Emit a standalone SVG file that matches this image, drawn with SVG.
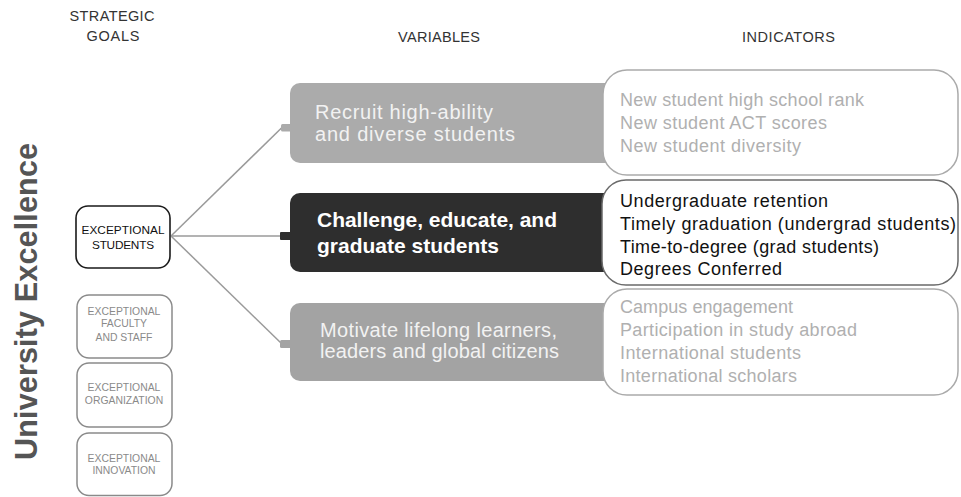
<svg xmlns="http://www.w3.org/2000/svg" width="961" height="497" viewBox="0 0 961 497">
<style>
  text { font-family: "Liberation Sans", Arial, sans-serif; }
  .hdr { font-size: 14.5px; fill: #333; text-anchor: middle; }
  .goal { fill: #fff; stroke: #8a8a8a; stroke-width: 1.5; }
  .goal-on { fill: #fff; stroke: #1a1a1a; stroke-width: 1.6; }
  .gtxt { font-size: 10.4px; fill: #8a8a8a; text-anchor: middle; }
  .gtxt-on { font-size: 11.8px; fill: #111; text-anchor: middle; }
  .var-lt { fill: #ababab; }
  .var-lt2 { fill: #a3a3a3; }
  .var-dk { fill: #2e2e2e; }
  .vtxt { font-size: 20px; fill: #f2f2f2; }
  .vtxt-on { font-size: 21px; font-weight: bold; fill: #fff; }
  .ind { fill: #fff; stroke: #aaaaaa; stroke-width: 1.5; }
  .ind-on { fill: #fff; stroke: #6a6a6a; stroke-width: 1.5; }
  .itxt { font-size: 18px; fill: #b0b0b0; }
  .itxt-on { font-size: 18px; fill: #111; }
  .conn { stroke: #9a9a9a; stroke-width: 1.5; fill: none; }
</style>

<!-- Headers -->
<g id="headers">
  <text class="hdr" x="112" y="21" textLength="85">STRATEGIC</text>
  <text class="hdr" x="113" y="41" textLength="53">GOALS</text>
  <text class="hdr" x="439" y="42" textLength="82">VARIABLES</text>
  <text class="hdr" x="788.5" y="42" textLength="93">INDICATORS</text>
</g>

<!-- Vertical title -->
<g id="title">
  <text transform="translate(37,301.5) rotate(-90)" text-anchor="middle" font-size="30.5" font-weight="bold" fill="#555" textLength="317">University Excellence</text>
</g>

<!-- Connectors -->
<g id="connectors">
  <line class="conn" x1="171" y1="236" x2="282" y2="127.5"/>
  <line class="conn" x1="171" y1="236" x2="281" y2="236"/>
  <line class="conn" x1="171" y1="236" x2="282" y2="344"/>
</g>

<!-- Strategic goals -->
<g id="goal-students">
  <rect class="goal-on" x="76" y="206" width="94" height="62" rx="12"/>
  <text class="gtxt-on" x="123" y="234" textLength="83">EXCEPTIONAL</text>
  <text class="gtxt-on" x="123" y="249" textLength="62">STUDENTS</text>
</g>
<g id="goal-faculty">
  <rect class="goal" x="77" y="295" width="95" height="63" rx="12"/>
  <text class="gtxt" x="124" y="315">EXCEPTIONAL</text>
  <text class="gtxt" x="124" y="327">FACULTY</text>
  <text class="gtxt" x="124" y="341">AND STAFF</text>
</g>
<g id="goal-organization">
  <rect class="goal" x="77" y="363" width="95" height="64" rx="12"/>
  <text class="gtxt" x="124" y="391">EXCEPTIONAL</text>
  <text class="gtxt" x="124" y="404">ORGANIZATION</text>
</g>
<g id="goal-innovation">
  <rect class="goal" x="77" y="433" width="95" height="62.5" rx="12"/>
  <text class="gtxt" x="124" y="462">EXCEPTIONAL</text>
  <text class="gtxt" x="124" y="474">INNOVATION</text>
</g>

<!-- Variables -->
<g id="var-recruit">
  <rect class="var-lt" x="281" y="124" width="14" height="7.5" rx="1.5"/>
  <rect class="var-lt" x="290" y="83" width="350" height="80" rx="10"/>
  <text class="vtxt" x="315" y="119" textLength="178">Recruit high-ability</text>
  <text class="vtxt" x="315" y="141" textLength="200">and diverse students</text>
</g>
<g id="var-challenge">
  <rect class="var-dk" x="280" y="232" width="16" height="8" rx="1"/>
  <rect class="var-dk" x="290" y="193" width="350" height="79" rx="10"/>
  <text class="vtxt-on" x="317" y="227" textLength="240">Challenge, educate, and</text>
  <text class="vtxt-on" x="317" y="253" textLength="182">graduate students</text>
</g>
<g id="var-motivate">
  <rect class="var-lt2" x="280" y="340" width="16" height="8" rx="1.5"/>
  <rect class="var-lt2" x="290" y="303" width="350" height="78" rx="10"/>
  <text class="vtxt" x="320" y="337" textLength="237">Motivate lifelong learners,</text>
  <text class="vtxt" x="320" y="358" textLength="239">leaders and global citizens</text>
</g>

<!-- Indicators -->
<g id="ind-recruit">
  <rect class="ind" x="603" y="70" width="355" height="105" rx="24"/>
  <text class="itxt" x="620" y="106" textLength="244">New student high school rank</text>
  <text class="itxt" x="620" y="129" textLength="207">New student ACT scores</text>
  <text class="itxt" x="620" y="152" textLength="181">New student diversity</text>
</g>
<g id="ind-challenge">
  <rect class="ind-on" x="602" y="180" width="356" height="105" rx="24"/>
  <text class="itxt-on" x="620" y="207" textLength="208">Undergraduate retention</text>
  <text class="itxt-on" x="620" y="230" textLength="336">Timely graduation (undergrad students)</text>
  <text class="itxt-on" x="620" y="253" textLength="259">Time-to-degree (grad students)</text>
  <text class="itxt-on" x="620" y="275" textLength="162">Degrees Conferred</text>
</g>
<g id="ind-motivate">
  <rect class="ind" x="603" y="289" width="355" height="106" rx="24"/>
  <text class="itxt" x="620" y="313" textLength="173">Campus engagement</text>
  <text class="itxt" x="620" y="336" textLength="237">Participation in study abroad</text>
  <text class="itxt" x="620" y="359" textLength="181">International students</text>
  <text class="itxt" x="620" y="382" textLength="177">International scholars</text>
</g>
</svg>
